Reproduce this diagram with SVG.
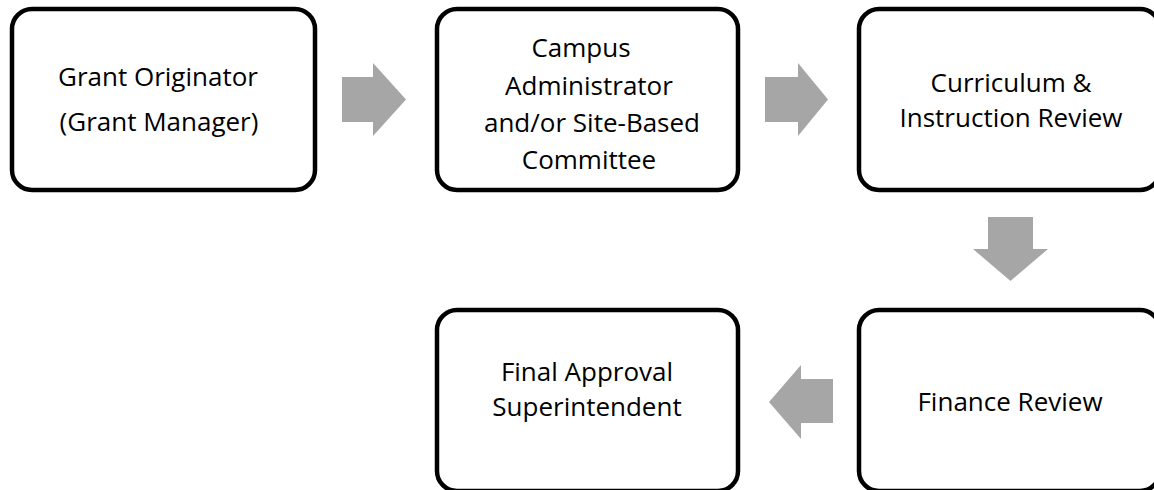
<svg xmlns="http://www.w3.org/2000/svg" width="1154" height="490" viewBox="0 0 1154 490">
<style>
.box{fill:#fff;stroke:#000;stroke-width:4.5}
.t{font-family:"Open Sans","Noto Sans",sans-serif;font-size:26px;fill:#000;text-anchor:middle}
.arr{fill:#A6A6A6}
</style>
<rect width="1154" height="490" fill="#fff"/>
<g id="n1"><rect class="box" x="12" y="9" width="303" height="181" rx="20"/>
<text class="t" x="158" y="86">Grant Originator</text>
<text class="t" x="159" y="131">(Grant Manager)</text></g>
<g id="n2"><rect class="box" x="437" y="9" width="301" height="181" rx="20"/>
<text class="t" x="581" y="57">Campus</text>
<text class="t" x="589" y="95">Administrator</text>
<text class="t" x="592" y="132">and/or Site-Based</text>
<text class="t" x="589" y="169">Committee</text></g>
<g id="n3"><rect class="box" x="859" y="9" width="301" height="181" rx="20"/>
<text class="t" x="1011" y="92">Curriculum &amp;</text>
<text class="t" x="1011" y="127">Instruction Review</text></g>
<g id="n4"><rect class="box" x="437" y="310" width="301" height="181" rx="20"/>
<text class="t" x="587" y="381">Final Approval</text>
<text class="t" x="587" y="416">Superintendent</text></g>
<g id="n5"><rect class="box" x="859" y="310" width="301" height="181" rx="20"/>
<text class="t" x="1010" y="411">Finance Review</text></g>
<g id="connectors">
<polygon class="arr" points="342,77 373,77 373,63 406,99.5 373,136 373,122 342,122"/>
<polygon class="arr" points="765,77 798,77 798,63 828,99.5 798,136 798,122 765,122"/>
<polygon class="arr" points="988,217 1033,217 1033,249 1048,249 1010.5,281 973,249 988,249"/>
<polygon class="arr" points="833,379 801,379 801,365 769,402 801,439 801,423 833,423"/>
</g>
</svg>
